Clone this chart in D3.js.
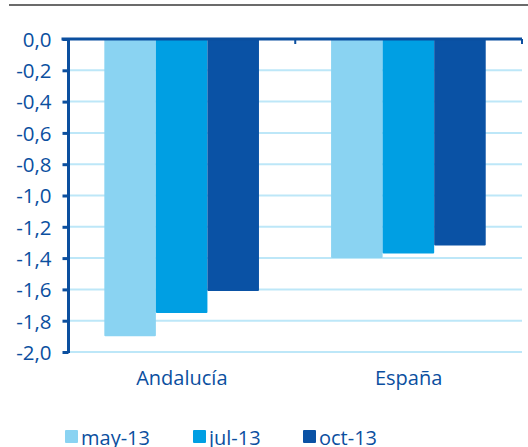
<!DOCTYPE html>
<html>
<head>
<meta charset="utf-8">
<script src="https://cdn.jsdelivr.net/npm/d3@7"></script>
<style>
	body { margin: 0; background: #fff; }
	text { font-family: "Open Sans", sans-serif; fill: #0b4f9f; }
</style>
</head>
<body>
<script>
const categories = ["Andalucía", "España"];
const series     = ["may-13", "jul-13", "oct-13"];
const may13      = [-1.90, -1.40];
const jul13      = [-1.75, -1.37];
const oct13      = [-1.61, -1.32];
const yTicks     = [0, -0.2, -0.4, -0.6, -0.8, -1.0, -1.2, -1.4, -1.6, -1.8, -2.0];

const values = { "may-13": may13, "jul-13": jul13, "oct-13": oct13 };
const colors = { "may-13": "#8ad3f2", "jul-13": "#009fe3", "oct-13": "#0a52a5" };

const width = 528, height = 447;
const margins = { left: 68.5, right: 522, top: 39, bottom: 352 };

const svg = d3.select("body").append("svg")
	.attr("width", width)
	.attr("height", height);

// top rule
svg.append("line")
	.attr("x1", 9).attr("x2", width)
	.attr("y1", 5).attr("y2", 5)
	.attr("stroke", "#6b6b6b").attr("stroke-width", 2);

const y = d3.scaleLinear().domain([-2, 0]).range([margins.bottom, margins.top]);

const x0 = d3.scaleBand().domain(categories).range([margins.left, margins.right]).padding(0);
const bw = x0.bandwidth();
const x1 = d3.scaleBand().domain(series).range([bw * 0.158, bw * 0.84]).padding(0);

// grid
svg.append("g")
	.selectAll("line")
	.data(yTicks.filter(d => d !== 0))
	.join("line")
	.attr("x1", margins.left + 1).attr("x2", margins.right)
	.attr("y1", d => y(d)).attr("y2", d => y(d))
	.attr("stroke", "#bde7f8").attr("stroke-width", 2);

// bars
const groups = svg.append("g")
	.selectAll("g")
	.data(categories)
	.join("g")
	.attr("transform", d => "translate(" + x0(d) + ",0)");

groups.selectAll("rect")
	.data((c, i) => series.map(s => ({ s, v: values[s][i] })))
	.join("rect")
	.attr("x", d => x1(d.s))
	.attr("y", y(0))
	.attr("width", x1.bandwidth())
	.attr("height", d => y(d.v) - y(0))
	.attr("rx", 1)
	.attr("fill", d => colors[d.s]);

// y axis
const yAxis = svg.append("g")
	.attr("transform", "translate(" + margins.left + ",0)")
	.call(d3.axisLeft(y)
		.tickValues(yTicks)
		.tickSize(6)
		.tickPadding(11)
		.tickFormat(d => d3.format(".1f")(d).replace(".", ",").replace("−", "-")));
yAxis.select(".domain").attr("stroke", "#0b4f9f").attr("stroke-width", 3)
	.attr("d", "M0," + margins.top + "V" + (margins.bottom + 1));
yAxis.selectAll(".tick line").attr("stroke", "#0b4f9f").attr("stroke-width", 3);
yAxis.selectAll(".tick text")
	.style("font-size", "20.5px")
	.attr("fill", "#0b4f9f")
	.attr("dy", "0.36em");

// zero line / category axis
const xAxis = svg.append("g")
	.attr("transform", "translate(0," + y(0) + ")")
	.call(d3.axisBottom(x0).tickSize(0).tickFormat(""));
xAxis.select(".domain").attr("stroke", "#0b4f9f").attr("stroke-width", 3)
	.attr("d", "M" + (margins.left - 7) + ",0H" + margins.right);

svg.append("g")
	.selectAll("line")
	.data(categories)
	.join("line")
	.attr("x1", d => x0(d) + bw).attr("x2", d => x0(d) + bw)
	.attr("y1", margins.top).attr("y2", margins.top + 5)
	.attr("stroke", "#0b4f9f").attr("stroke-width", 2);

// category labels
svg.append("g")
	.selectAll("text")
	.data(categories)
	.join("text")
	.attr("x", d => x0(d) + bw / 2)
	.attr("y", 385)
	.attr("text-anchor", "middle")
	.style("font-size", "20px")
	.text(d => d);

// legend
const legendX = [65, 193, 303];
const legend = svg.append("g")
	.selectAll("g")
	.data(series)
	.join("g")
	.attr("transform", (d, i) => "translate(" + legendX[i] + ",430)");

legend.append("rect")
	.attr("width", 13).attr("height", 13)
	.attr("rx", 1)
	.attr("fill", d => colors[d]);

legend.append("text")
	.attr("x", 16)
	.attr("y", 15)
	.style("font-size", "20px")
	.text(d => d);
</script>
</body>
</html>
